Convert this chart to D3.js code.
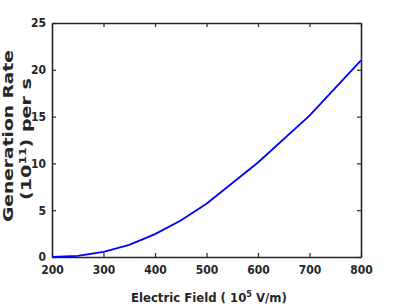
<!DOCTYPE html>
<html>
<head>
<meta charset="utf-8">
<script src="https://cdn.jsdelivr.net/npm/d3@7"></script>
<style>
  body { margin: 0; background: #fff; }
  svg { display: block; }
  text { fill: #262626; }
</style>
</head>
<body>
<div id="chart"></div>
<script>
var fieldValues = [200, 250, 300, 350, 400, 450, 500, 600, 700, 800];
var rateValues = [0, 0.12, 0.55, 1.3, 2.45, 3.9, 5.7, 10.1, 15.1, 21.0];
var xTicks = [200, 300, 400, 500, 600, 700, 800];
var yTicks = [0, 5, 10, 15, 20, 25];

var margin = { top: 23, right: 38, bottom: 50, left: 52 };
var width = 399 - margin.left - margin.right,
    height = 307 - margin.top - margin.bottom;

var data = fieldValues.map(function (f, i) { return [f, rateValues[i]]; });

var svg = d3.select('#chart').append('svg')
  .attr('width', 399).attr('height', 307);

var g = svg.append('g')
  .attr('transform', 'translate(' + margin.left + ',' + margin.top + ')');

var xScale = d3.scaleLinear().domain([200, 800]).range([0, width]);
var yScale = d3.scaleLinear().domain([0, 25]).range([height, 0]);

var tickFont = '"DejaVu Sans Condensed", "Liberation Sans Narrow", sans-serif';

// bottom axis, ticks pointing inward
var xAxis = d3.axisBottom(xScale).tickValues(xTicks).tickSize(-4).tickPadding(8).tickSizeOuter(0);
var xg = g.append('g').attr('transform', 'translate(0,' + height + ')').call(xAxis);
// left axis
var yAxis = d3.axisLeft(yScale).tickValues(yTicks).tickSize(-4).tickPadding(6).tickSizeOuter(0);
var yg = g.append('g').call(yAxis);
// top + right mirror axes (no labels)
var tg = g.append('g').call(d3.axisTop(xScale).tickValues(xTicks).tickSize(-4).tickSizeOuter(0).tickFormat(''));
var rg = g.append('g').attr('transform', 'translate(' + width + ',0)')
  .call(d3.axisRight(yScale).tickValues(yTicks).tickSize(-4).tickSizeOuter(0).tickFormat(''));

[xg, yg, tg, rg].forEach(function (a) {
  a.select('.domain').attr('stroke', '#262626').attr('stroke-width', 1.6);
  a.selectAll('.tick line').attr('stroke', '#262626').attr('stroke-width', 1.2);
  a.selectAll('.tick text')
    .style('font-family', tickFont).style('font-weight', 'bold')
    .style('font-size', '12px').attr('fill', '#262626');
});

var line = d3.line()
  .x(function (d) { return xScale(d[0]); })
  .y(function (d) { return yScale(d[1]); });

g.append('path').datum(data)
  .attr('d', line)
  .attr('fill', 'none')
  .attr('stroke', '#0000ff')
  .attr('stroke-width', 1.8);

// x label
var xl = svg.append('text')
  .attr('x', 131).attr('y', 302)
  .style('font-family', tickFont).style('font-weight', 'bold').style('font-size', '13px');
xl.append('tspan').text('Electric Field ( 10');
xl.append('tspan').attr('dy', -5).style('font-size', '9px').text('5');
xl.append('tspan').attr('dy', 5).text(' V/m)');

// y label: two rotated lines, stretched along their length like the original
var yl1 = svg.append('text')
  .attr('transform', 'translate(13,136) rotate(-90)')
  .attr('text-anchor', 'middle')
  .attr('textLength', 172).attr('lengthAdjust', 'spacingAndGlyphs')
  .style('font-family', '"DejaVu Sans", sans-serif').style('font-weight', 'bold').style('font-size', '14px')
  .text('Generation Rate');

var yl2 = svg.append('text')
  .attr('transform', 'translate(31,139) rotate(-90)')
  .attr('text-anchor', 'middle')
  .attr('textLength', 122).attr('lengthAdjust', 'spacingAndGlyphs')
  .style('font-family', '"DejaVu Sans", sans-serif').style('font-weight', 'bold').style('font-size', '14px');
yl2.append('tspan').text('(10');
yl2.append('tspan').attr('dy', -5).style('font-size', '9px').text('11');
yl2.append('tspan').attr('dy', 5).text(') per s');
</script>
</body>
</html>
